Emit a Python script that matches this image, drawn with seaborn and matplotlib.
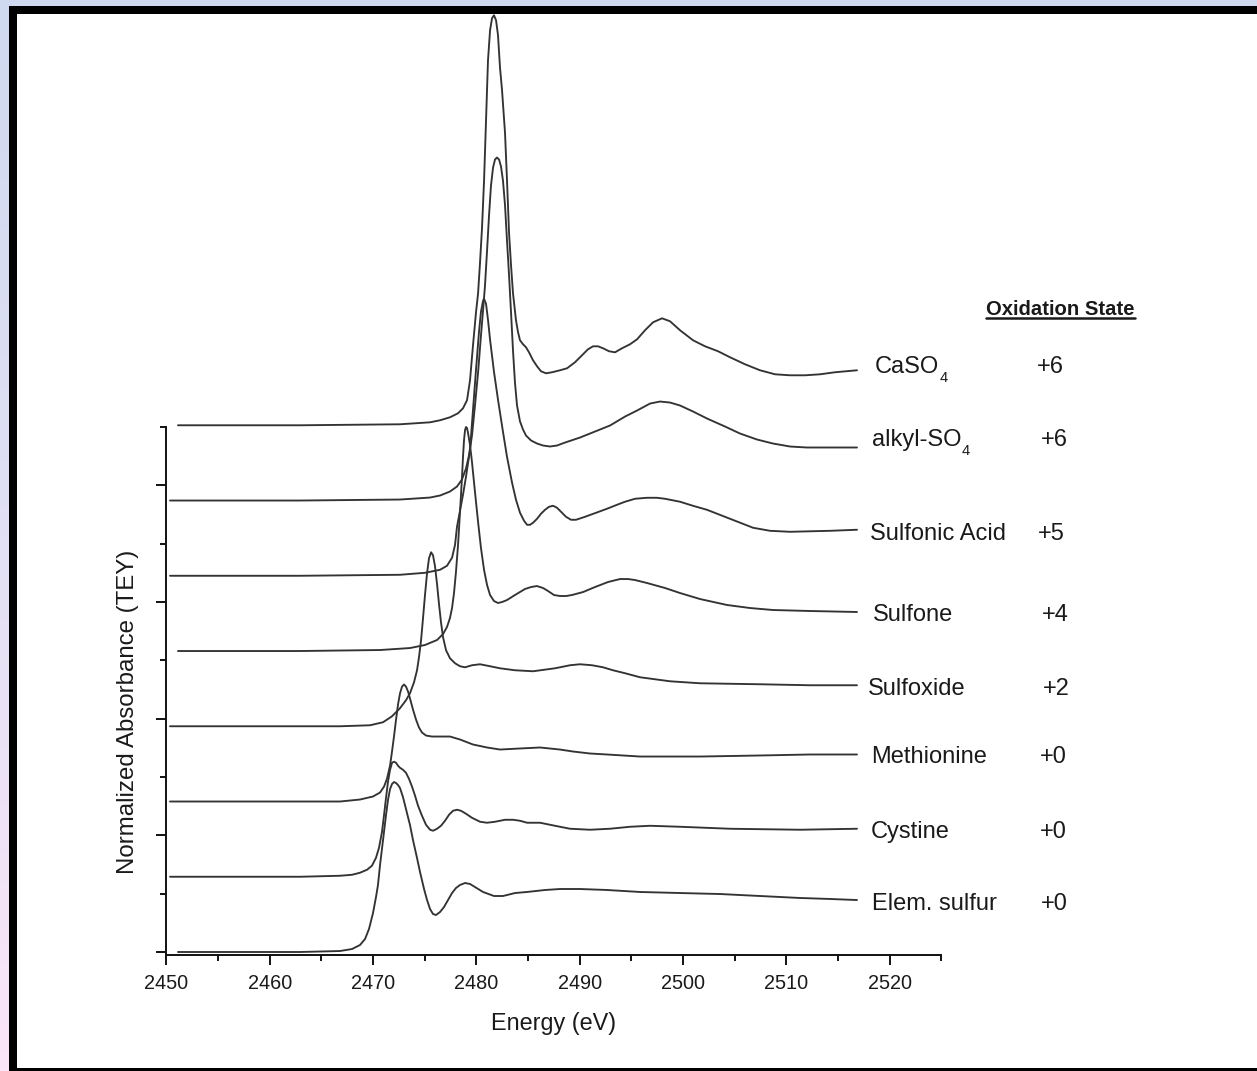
import numpy as np
import pandas as pd
import matplotlib
matplotlib.use("Agg")
import matplotlib.pyplot as plt
import seaborn as sns
from matplotlib.ticker import MultipleLocator
from matplotlib.patches import Rectangle
from matplotlib.lines import Line2D
from matplotlib.colors import LinearSegmentedColormap

# ---------------- data ----------------
compounds = ["Elem. sulfur", "Cystine", "Methionine", "Sulfoxide",
             "Sulfone", "Sulfonic Acid", "alkyl-SO4", "CaSO4"]
label_main = ["Elem. sulfur", "Cystine", "Methionine", "Sulfoxide",
              "Sulfone", "Sulfonic Acid", "alkyl-SO", "CaSO"]
label_sub = ["", "", "", "", "", "", "4", "4"]
oxidation_states = ["+0", "+0", "+0", "+2", "+4", "+5", "+6", "+6"]
offsets = [0.0, 1.29, 2.58, 3.87, 5.16, 6.45, 7.74, 9.03]

elem_e = [2451.12, 2462.93, 2466.81, 2467.97, 2468.74, 2469.23, 2469.61, 2470.00, 2470.29, 2470.48,
          2470.68, 2470.97, 2471.26, 2471.45, 2471.65, 2471.84, 2472.03, 2472.23, 2472.42, 2472.61,
          2472.90, 2473.19, 2473.58, 2473.87, 2474.26, 2474.55, 2474.94, 2475.23, 2475.52, 2475.81,
          2476.10, 2476.49, 2476.87, 2477.26, 2477.65, 2478.03, 2478.42, 2478.91, 2479.39, 2479.87,
          2480.65, 2481.71, 2482.58, 2483.75, 2484.91, 2486.65, 2488.10, 2490.04, 2492.65, 2495.85,
          2499.72, 2503.59, 2507.46, 2511.34, 2514.24, 2516.85]
elem_a = [0, 0, 0.017, 0.051, 0.120, 0.223, 0.394, 0.669, 0.943, 1.149,
          1.492, 1.920, 2.349, 2.606, 2.794, 2.880, 2.914, 2.897, 2.863, 2.812,
          2.657, 2.452, 2.177, 1.920, 1.612, 1.372, 1.080, 0.891, 0.737, 0.651,
          0.634, 0.686, 0.771, 0.891, 1.011, 1.097, 1.149, 1.183, 1.166, 1.114,
          1.029, 0.960, 0.960, 1.011, 1.029, 1.063, 1.080, 1.080, 1.063, 1.029,
          1.011, 0.994, 0.960, 0.926, 0.909, 0.891]

cys_e = [2450.35, 2462.93, 2466.81, 2467.97, 2468.74, 2469.42, 2469.90, 2470.29, 2470.58, 2470.87,
         2471.07, 2471.26, 2471.45, 2471.65, 2471.84, 2472.03, 2472.23, 2472.42, 2472.61, 2472.90,
         2473.19, 2473.48, 2473.78, 2474.07, 2474.36, 2474.74, 2475.13, 2475.52, 2475.81, 2476.20,
         2476.58, 2476.97, 2477.36, 2477.74, 2478.13, 2478.52, 2479.00, 2479.58, 2480.36, 2481.04,
         2481.81, 2482.78, 2483.55, 2484.23, 2484.91, 2486.17, 2487.62, 2489.07, 2491.01, 2492.94,
         2494.88, 2496.82, 2499.72, 2504.56, 2511.34, 2516.85]
cys_a = [0, 0, 0.017, 0.034, 0.069, 0.120, 0.189, 0.326, 0.497, 0.771,
         1.063, 1.354, 1.629, 1.834, 1.954, 1.972, 1.954, 1.903, 1.869, 1.834,
         1.783, 1.680, 1.543, 1.389, 1.217, 1.046, 0.891, 0.806, 0.789, 0.823,
         0.874, 0.960, 1.063, 1.131, 1.149, 1.131, 1.080, 1.011, 0.943, 0.926,
         0.943, 0.977, 0.977, 0.960, 0.926, 0.926, 0.874, 0.823, 0.806, 0.823,
         0.857, 0.874, 0.857, 0.823, 0.806, 0.823]

met_e = [2450.35, 2462.93, 2466.81, 2468.74, 2470.00, 2470.68, 2471.07, 2471.36, 2471.65, 2471.84,
         2472.03, 2472.23, 2472.42, 2472.61, 2472.81, 2473.00, 2473.19, 2473.39, 2473.58, 2473.87,
         2474.16, 2474.45, 2474.74, 2475.13, 2475.71, 2476.49, 2477.45, 2478.42, 2479.68, 2481.04,
         2482.29, 2484.23, 2486.17, 2488.10, 2489.36, 2491.01, 2492.65, 2495.85, 2501.66, 2507.46,
         2512.31, 2516.85]
met_a = [0, 0, 0, 0.034, 0.086, 0.154, 0.257, 0.394, 0.617, 0.857,
         1.114, 1.406, 1.663, 1.851, 1.971, 2.006, 1.971, 1.886, 1.766, 1.577,
         1.406, 1.269, 1.183, 1.131, 1.114, 1.114, 1.114, 1.063, 0.977, 0.926,
         0.891, 0.909, 0.926, 0.891, 0.857, 0.823, 0.806, 0.771, 0.771, 0.789,
         0.806, 0.806]

sox_e = [2450.35, 2462.93, 2466.81, 2469.71, 2470.97, 2471.84, 2472.61, 2473.19, 2473.58, 2473.97,
         2474.26, 2474.45, 2474.65, 2474.84, 2475.03, 2475.23, 2475.42, 2475.62, 2475.81, 2476.00,
         2476.20, 2476.39, 2476.58, 2476.78, 2477.07, 2477.45, 2477.94, 2478.42, 2478.91, 2479.58,
         2480.36, 2481.33, 2482.29, 2483.74, 2485.49, 2487.62, 2489.07, 2490.04, 2491.20, 2492.27,
         2493.23, 2494.40, 2495.85, 2498.76, 2501.66, 2507.46, 2512.31, 2516.85]
sox_a = [0, 0, 0, 0.017, 0.069, 0.171, 0.309, 0.446, 0.566, 0.754,
         0.960, 1.183, 1.474, 1.852, 2.246, 2.623, 2.880, 2.983, 2.931, 2.743,
         2.434, 2.091, 1.783, 1.526, 1.303, 1.166, 1.080, 1.029, 1.011, 1.046,
         1.063, 1.029, 0.994, 0.960, 0.943, 0.994, 1.046, 1.063, 1.046, 1.011,
         0.960, 0.909, 0.840, 0.771, 0.737, 0.720, 0.703, 0.703]

sone_e = [2451.12, 2462.93, 2470.68, 2473.58, 2475.03, 2476.20, 2476.78, 2477.16, 2477.45, 2477.65,
          2477.84, 2478.03, 2478.23, 2478.42, 2478.61, 2478.71, 2478.81, 2478.91, 2479.00, 2479.10,
          2479.20, 2479.39, 2479.58, 2479.87, 2480.17, 2480.45, 2480.75, 2481.04, 2481.33, 2481.71,
          2482.10, 2482.49, 2482.97, 2483.74, 2484.71, 2485.30, 2485.87, 2486.46, 2486.94, 2487.52,
          2488.10, 2488.68, 2489.26, 2490.33, 2491.49, 2492.75, 2493.91, 2494.69, 2495.36, 2496.52,
          2498.27, 2499.72, 2501.66, 2504.27, 2506.50, 2508.72, 2512.31, 2516.85]
sone_a = [0, 0, 0.017, 0.051, 0.103, 0.189, 0.291, 0.411, 0.566, 0.737,
          0.994, 1.354, 1.817, 2.383, 2.966, 3.326, 3.617, 3.789, 3.840, 3.823,
          3.737, 3.532, 3.240, 2.726, 2.212, 1.766, 1.389, 1.131, 0.960, 0.857,
          0.823, 0.840, 0.874, 0.960, 1.063, 1.097, 1.114, 1.080, 1.029, 0.960,
          0.943, 0.943, 0.960, 1.011, 1.097, 1.183, 1.234, 1.234, 1.217, 1.166,
          1.080, 0.994, 0.891, 0.789, 0.737, 0.703, 0.686, 0.669]

sacid_e = [2450.35, 2462.93, 2472.61, 2475.03, 2476.49, 2477.16, 2477.65, 2477.94, 2478.13, 2478.42,
           2478.71, 2479.00, 2479.39, 2479.68, 2479.97, 2480.26, 2480.45, 2480.65, 2480.75, 2480.94,
           2481.13, 2481.33, 2481.71, 2482.10, 2482.58, 2482.97, 2483.46, 2483.84, 2484.23, 2484.62,
           2484.91, 2485.20, 2485.49, 2485.88, 2486.26, 2486.65, 2487.04, 2487.43, 2487.81, 2488.20,
           2488.68, 2489.17, 2489.65, 2490.52, 2491.59, 2492.65, 2493.62, 2494.39, 2495.36, 2496.52,
           2497.49, 2498.27, 2499.72, 2500.97, 2502.33, 2504.56, 2506.79, 2508.43, 2510.37, 2514.24,
           2516.85]
sacid_a = [0, 0, 0.017, 0.051, 0.103, 0.171, 0.309, 0.531, 0.840, 1.114,
           1.389, 1.697, 2.160, 2.846, 3.532, 4.183, 4.526, 4.715, 4.749, 4.663,
           4.389, 4.046, 3.497, 3.017, 2.469, 2.040, 1.594, 1.303, 1.080, 0.943,
           0.874, 0.874, 0.909, 0.977, 1.063, 1.131, 1.183, 1.200, 1.166, 1.097,
           1.011, 0.960, 0.960, 1.011, 1.080, 1.149, 1.217, 1.269, 1.320, 1.337,
           1.337, 1.320, 1.269, 1.200, 1.131, 0.977, 0.823, 0.771, 0.754, 0.771,
           0.789]

alkyl_e = [2450.35, 2462.93, 2472.61, 2475.52, 2476.49, 2477.45, 2478.13, 2478.61, 2479.00, 2479.29,
           2479.58, 2479.87, 2480.17, 2480.45, 2480.65, 2480.84, 2481.04, 2481.23, 2481.42, 2481.62,
           2481.81, 2482.00, 2482.20, 2482.39, 2482.58, 2482.78, 2482.97, 2483.17, 2483.36, 2483.55,
           2483.74, 2483.94, 2484.23, 2484.52, 2484.81, 2485.30, 2485.88, 2486.46, 2487.13, 2487.81,
           2488.59, 2490.04, 2491.49, 2492.94, 2494.40, 2495.56, 2496.82, 2497.78, 2498.75, 2499.72,
           2500.98, 2502.33, 2504.07, 2505.52, 2507.17, 2508.72, 2510.37, 2512.01, 2514.24, 2516.85]
alkyl_a = [0, 0, 0.017, 0.051, 0.086, 0.154, 0.240, 0.360, 0.549, 0.771,
           1.114, 1.629, 2.195, 2.829, 3.258, 3.686, 4.286, 4.886, 5.400, 5.709,
           5.846, 5.880, 5.846, 5.726, 5.486, 5.057, 4.457, 3.857, 3.223, 2.572,
           2.023, 1.629, 1.355, 1.217, 1.114, 1.029, 0.977, 0.943, 0.926, 0.943,
           0.994, 1.080, 1.183, 1.286, 1.440, 1.543, 1.663, 1.697, 1.680, 1.629,
           1.526, 1.406, 1.269, 1.149, 1.046, 0.977, 0.926, 0.909, 0.909, 0.909]

caso4_e = [2451.12, 2462.93, 2472.61, 2475.52, 2476.49, 2477.45, 2478.23, 2478.71, 2479.10, 2479.39,
           2479.68, 2479.97, 2480.17, 2480.36, 2480.55, 2480.75, 2480.94, 2481.13, 2481.33, 2481.52,
           2481.71, 2481.91, 2482.10, 2482.29, 2482.49, 2482.78, 2482.97, 2483.17, 2483.36, 2483.55,
           2483.84, 2484.04, 2484.23, 2484.52, 2484.81, 2485.10, 2485.49, 2485.88, 2486.26, 2486.75,
           2487.33, 2488.10, 2488.78, 2489.55, 2490.23, 2490.81, 2491.30, 2491.78, 2492.27, 2492.85,
           2493.43, 2494.10, 2494.88, 2495.56, 2496.33, 2497.11, 2497.98, 2498.75, 2499.72, 2500.98,
           2502.14, 2503.40, 2504.56, 2506.01, 2507.46, 2508.92, 2510.37, 2511.82, 2513.27, 2514.72,
           2516.85]
caso4_a = [0, 0, 0.017, 0.051, 0.086, 0.137, 0.206, 0.291, 0.429, 0.771,
           1.372, 1.937, 2.263, 2.794, 3.377, 4.200, 5.229, 6.257, 6.772, 6.978,
           7.029, 6.943, 6.686, 6.138, 5.743, 5.006, 4.200, 3.292, 2.743, 2.263,
           1.800, 1.594, 1.457, 1.389, 1.337, 1.251, 1.114, 1.011, 0.926, 0.891,
           0.909, 0.943, 0.977, 1.080, 1.200, 1.303, 1.354, 1.354, 1.320, 1.269,
           1.251, 1.320, 1.389, 1.474, 1.629, 1.766, 1.834, 1.783, 1.629, 1.457,
           1.354, 1.269, 1.166, 1.046, 0.943, 0.874, 0.857, 0.857, 0.874, 0.909,
           0.943]

energies = [elem_e, cys_e, met_e, sox_e, sone_e, sacid_e, alkyl_e, caso4_e]
absorb = [elem_a, cys_a, met_a, sox_a, sone_a, sacid_a, alkyl_a, caso4_a]

frames = []
for name, e, a, off in zip(compounds, energies, absorb, offsets):
    frames.append(pd.DataFrame({"Energy (eV)": e,
                                "Absorbance": np.asarray(a) + off,
                                "compound": name}))
df = pd.concat(frames, ignore_index=True)

# ---------------- styling ----------------
sns.set_theme(style="ticks")
plt.rcParams["font.family"] = ["Liberation Sans", "DejaVu Sans"]

W, H = 1257, 1071
PXU = 58.33  # pixels per y unit
fig = plt.figure(figsize=(W / 100, H / 100), dpi=100)

# frame background: gradient strip, black border, white panel
bg = fig.add_axes([0, 0, 1, 1], zorder=-10)
cmap = LinearSegmentedColormap.from_list("bg", ["#cfd9ef", "#e1e0f4", "#fbe5f8"])
bg.imshow(np.linspace(0, 1, 256)[:, None], aspect="auto", cmap=cmap,
          extent=[0, 1, 0, 1], origin="upper")
bg.add_patch(Rectangle((9 / W, 0), 1, 1 - 6 / H, color="black", lw=0))
bg.add_patch(Rectangle((17 / W, 3 / H), 1, 1 - 14 / H - 3 / H, color="white", lw=0))
bg.set_xlim(0, 1)
bg.set_ylim(0, 1)
bg.axis("off")

left_px, right_px, bottom_px, top_px = 166.4, 941.2, 955, 14
ax = fig.add_axes([left_px / W, (H - bottom_px) / H,
                   (right_px - left_px) / W, (bottom_px - top_px) / H])
ax.set_facecolor("none")

sns.lineplot(data=df, x="Energy (eV)", y="Absorbance", units="compound",
             estimator=None, sort=False, color="#333333", lw=1.35,
             solid_joinstyle="round", solid_capstyle="round",
             ax=ax, clip_on=False, legend=False)

ax.set_xlim(2450, 2525)
ax.set_ylim(-3 / PXU, (952 - top_px) / PXU)

for s in ["top", "right"]:
    ax.spines[s].set_visible(False)
for s in ["left", "bottom"]:
    ax.spines[s].set_linewidth(1.4)
    ax.spines[s].set_color("#111111")
ax.spines["left"].set_bounds(-3 / PXU, 9)

ax.xaxis.set_major_locator(MultipleLocator(10))
ax.xaxis.set_minor_locator(MultipleLocator(5))
ax.set_yticks([0, 2, 4, 6, 8])
ax.set_yticks([1, 3, 5, 7, 9], minor=True)
ax.set_yticklabels([])
ax.tick_params(axis="both", which="major", direction="out", length=7.2, width=1.4,
               color="#111111", labelcolor="#1a1a1a", labelsize=14.3, pad=6.5)
ax.tick_params(axis="both", which="minor", direction="out", length=4.5, width=1.4,
               color="#111111")

ax.set_xlabel("Energy (eV)", fontsize=16.8, color="#1a1a1a", labelpad=14)
ax.set_ylabel("Normalized Absorbance (TEY)", fontsize=17.3, color="#1a1a1a", va="center")
ax.yaxis.set_label_coords((128 - left_px) / (right_px - left_px),
                          (bottom_px - 712) / (bottom_px - top_px))
ax.grid(False)

# right-hand labels
label_x = [2518.27, 2518.21, 2518.21, 2517.95, 2518.37, 2518.11, 2518.27, 2518.59]
state_x = [2534.64, 2534.57, 2534.57, 2534.86, 2534.73, 2534.38, 2534.67, 2534.25]
label_y = [0.720, 1.954, 3.240, 4.406, 5.680, 7.068, 8.680, 9.931]
main_texts = []
for lt, st, lx, sx, ly in zip(label_main, oxidation_states, label_x, state_x, label_y):
    t = ax.text(lx, ly, lt, fontsize=17, ha="left", va="baseline", color="#1a1a1a", clip_on=False)
    main_texts.append(t)
    ax.text(sx, ly, st, fontsize=17, ha="left", va="baseline", color="#1a1a1a", clip_on=False)

title = ax.text(2536.57, 10.926, "Oxidation State", fontsize=14.6, fontweight="bold",
                ha="center", va="baseline", color="#1a1a1a", clip_on=False)

fig.canvas.draw()
inv_data = ax.transData.inverted()
for t, sub, lx, ly in zip(main_texts, label_sub, label_x, label_y):
    if not sub:
        continue
    bb = t.get_window_extent()
    base_disp = ax.transData.transform((lx, ly))[1]
    sx_d, sy_d = inv_data.transform((bb.x1 + 0.5, base_disp - 9.0))
    ax.text(sx_d, sy_d, sub, fontsize=10.5, ha="left", va="baseline",
            color="#1a1a1a", clip_on=False)

bb = title.get_window_extent()
uy = ax.transData.transform((2450, (952 - 318) / PXU))[1]
inv = fig.transFigure.inverted()
(fx0, fy), (fx1, _) = inv.transform([(bb.x0, uy), (bb.x1, uy)])
fig.add_artist(Line2D([fx0, fx1], [fy, fy], transform=fig.transFigure,
                      color="#1a1a1a", lw=1.8))

fig.savefig("out.png", dpi=100)
